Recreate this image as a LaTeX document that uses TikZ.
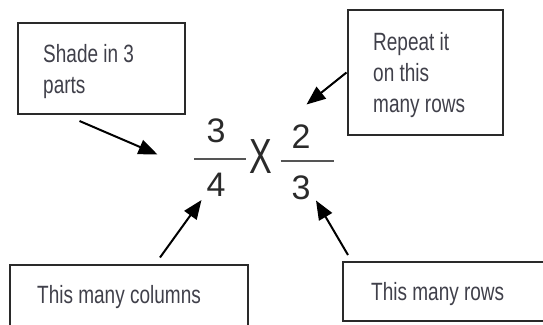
\documentclass[tikz,border=0pt]{standalone}
\usepackage{fontspec}
\usepackage{graphicx}
\setmainfont{Liberation Sans}
\usetikzlibrary{arrows.meta}
\definecolor{ink}{HTML}{2A2A2A}
\definecolor{txt}{HTML}{40404A}
\newcommand\nar[1]{\scalebox{0.76}[1]{#1}}
\begin{document}
\begin{tikzpicture}[x=1pt,y=-1pt,
  box/.style={draw=ink,line width=2pt,inner sep=0pt},
  lbl/.style={anchor=base west,inner sep=0pt,align=left,text=txt,font=\fontsize{25}{31}\selectfont},
  num/.style={inner sep=0pt,text=ink,font=\fontsize{34}{34}\selectfont},
  bar/.style={draw=ink!80,line width=2.4pt},
  arr/.style={draw=black,line width=2pt,-{Triangle[length=19pt,width=15pt]}}]
\useasboundingbox (0,0) rectangle (543,324);
% boxes
\draw[box] (17.5,23) rectangle (184.5,114);
\draw[box] (347.5,9.5) rectangle (503,135);
\draw[box] (9.5,265) rectangle (248,330);
\draw[box] (343,262) rectangle (550,320.5);
% labels (base anchor = baseline of last line)
\node[lbl] (t1) at (43,93) {\nar{Shade in 3}\\\nar{parts}};
\node[lbl] (t2) at (373,112) {\nar{Repeat it}\\\nar{on this}\\\nar{many rows}};
\node[lbl] (t3) at (37,303) {\nar{This many columns}};
\node[lbl] (t4) at (371,300) {\nar{This many rows}};
% fraction
\node[num] (n1) at (216,131) {3};
\node[num] (d1) at (216,185) {4};
\node[num] (x) at (260.5,157) {\scalebox{1}[1.45]{X}};
\node[num] (n2) at (301,137) {2};
\node[num] (d2) at (301,188) {3};
\coordinate (b1l) at (194,159); \coordinate (b1r) at (246,159);
\coordinate (b2l) at (280.5,161); \coordinate (b2r) at (334,161);
\draw[bar] (b1l) -- (b1r);
\draw[bar] (b2l) -- (b2r);
% arrows
\coordinate (a1s) at (79.5,121); \coordinate (a1e) at (157.5,154.5);
\coordinate (a2s) at (346.5,72.5); \coordinate (a2e) at (306.5,104.5);
\coordinate (a3s) at (160,257.5); \coordinate (a3e) at (201.5,200);
\coordinate (a4s) at (348,255); \coordinate (a4e) at (316,200.5);
\draw[arr] (a1s) -- (a1e);
\draw[arr] (a2s) -- (a2e);
\draw[arr] (a3s) -- (a3e);
\draw[arr] (a4s) -- (a4e);
\end{tikzpicture}
\end{document}
